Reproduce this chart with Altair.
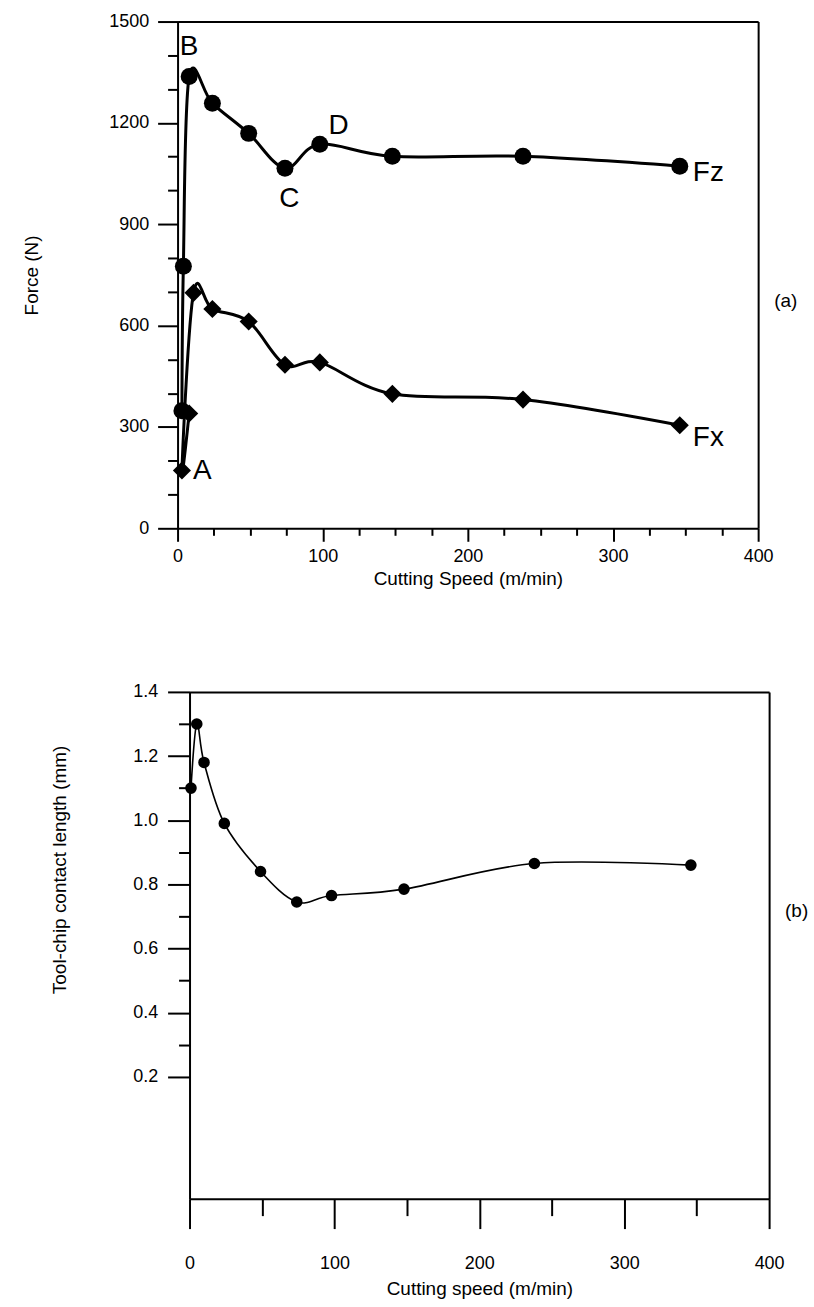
import altair as alt
import pandas as pd

# ---------------- data ----------------
fz_speed = [3, 4, 8, 24, 49, 74, 98, 148, 238, 346]
fz_force = [348, 776, 1337, 1258, 1169, 1066, 1137, 1101, 1101, 1072]
fx_speed = [8, 3, 11, 24, 49, 74, 98, 148, 238, 346]
fx_force = [340, 171, 697, 649, 612, 484, 491, 398, 381, 305]
len_speed = [1, 5, 10, 24, 49, 74, 98, 148, 238, 346]
len_value = [1.10, 1.30, 1.18, 0.99, 0.84, 0.745, 0.765, 0.785, 0.865, 0.86]

top_x_major = [0, 100, 200, 300, 400]
top_x_minor = [25, 50, 75, 125, 150, 175, 225, 250, 275, 325, 350, 375]
top_y_major = [0, 300, 600, 900, 1200, 1500]
top_y_minor = [100, 200, 400, 500, 700, 800, 1000, 1100, 1300, 1400]
bot_x_major = [0, 100, 200, 300, 400]
bot_x_minor = [50, 150, 250, 350]
bot_y_major = [0.2, 0.4, 0.6, 0.8, 1.0, 1.2, 1.4]
bot_y_minor = [0.3, 0.5, 0.7, 0.9, 1.1, 1.3]

note_text = ["B", "A", "C", "D"]
note_speed = [8, 17, 77, 111]
note_force = [1426, 171, 974, 1190]
side_text = ["Fz", "Fx"]
side_speed = [355, 355]
side_force = [1051, 268]
panel_a = ["(a)"]
panel_a_speed = [419]
panel_a_force = [673]
panel_b = ["(b)"]
panel_b_speed = [419]
panel_b_value = [0.716]

# ---------------- style ----------------
FONT = "Liberation Sans"
K = "black"
TW, TH = 582, 508
BW, BH = 593, 508
SHIFT = 12

fz = pd.DataFrame({"speed": fz_speed, "force": fz_force, "seq": list(range(len(fz_speed)))})
fx = pd.DataFrame({"speed": fx_speed, "force": fx_force, "seq": list(range(len(fx_speed)))})
ln = pd.DataFrame({"speed": len_speed, "value": len_value, "seq": list(range(len(len_speed)))})
notes = pd.DataFrame({"t": note_text, "speed": note_speed, "force": note_force})
sides = pd.DataFrame({"t": side_text, "speed": side_speed, "force": side_force})
pa = pd.DataFrame({"t": panel_a, "speed": panel_a_speed, "force": panel_a_force})
pb = pd.DataFrame({"t": panel_b, "speed": panel_b_speed, "value": panel_b_value})


def major_axis(orient, values, tick, title, fmt, label_pad, **kw):
    return alt.Axis(orient=orient, values=values, tickSize=tick, tickWidth=2,
                    tickColor=K, domain=True, domainColor=K, domainWidth=2,
                    labelFont=FONT, labelFontSize=18, labelColor=K,
                    labelPadding=label_pad, labelFlush=False, labelOverlap=False,
                    format=fmt, grid=False, title=title, titleFont=FONT,
                    titleFontSize=19, titleFontWeight="normal", titleColor=K, **kw)


def minor_axis(orient, values, tick, **kw):
    return alt.Axis(orient=orient, values=values, tickSize=tick, tickWidth=2,
                    tickColor=K, domain=False, labels=False, grid=False,
                    title=None, **kw)


def frame_axis(orient, **kw):
    return alt.Axis(orient=orient, domain=True, domainColor=K, domainWidth=2,
                    ticks=False, labels=False, grid=False, title=None, **kw)


# ---------------- top panel ----------------
xs = alt.Scale(domain=[0, 400], nice=False, zero=False)
ys = alt.Scale(domain=[0, 1500], nice=False, zero=False)

fz_line = alt.Chart(fz).mark_line(color=K, strokeWidth=3, interpolate="cardinal").encode(
    x=alt.X("speed:Q", scale=xs,
            axis=major_axis("bottom", top_x_major, 13, "Cutting Speed (m/min)", "d", 6,
                            titlePadding=4)),
    y=alt.Y("force:Q", scale=ys,
            axis=major_axis("left", top_y_major, 20, "Force (N)", "d", 9,
                            titleX=-146, titleY=TH / 2, titleAngle=270,
                            titleAlign="center", titleBaseline="middle")),
    order=alt.Order("seq:Q"),
)
fx_line = alt.Chart(fx).mark_line(color=K, strokeWidth=3, interpolate="cardinal").encode(
    x=alt.X("speed:Q", scale=xs, axis=minor_axis("bottom", top_x_minor, 7)),
    y=alt.Y("force:Q", scale=ys, axis=minor_axis("left", top_y_minor, 10)),
    order=alt.Order("seq:Q"),
)
fz_pts = alt.Chart(fz).mark_point(shape="circle", filled=True, color=K, size=290, opacity=1).encode(
    x=alt.X("speed:Q", scale=xs, axis=frame_axis("top")),
    y=alt.Y("force:Q", scale=ys, axis=frame_axis("right")),
)
fx_pts = alt.Chart(fx).mark_point(shape="diamond", filled=True, color=K, size=330, opacity=1).encode(
    x=alt.X("speed:Q", scale=xs, axis=None),
    y=alt.Y("force:Q", scale=ys, axis=None),
)
note_layer = alt.Chart(notes).mark_text(font=FONT, fontSize=28, color=K, align="center",
                                        baseline="middle").encode(
    x=alt.X("speed:Q", scale=xs, axis=None),
    y=alt.Y("force:Q", scale=ys, axis=None),
    text="t:N",
)
side_layer = alt.Chart(sides).mark_text(font=FONT, fontSize=28, color=K, align="left",
                                        baseline="middle").encode(
    x=alt.X("speed:Q", scale=xs, axis=None),
    y=alt.Y("force:Q", scale=ys, axis=None),
    text="t:N",
)
pa_layer = alt.Chart(pa).mark_text(font=FONT, fontSize=19, color=K, align="center",
                                   baseline="middle").encode(
    x=alt.X("speed:Q", scale=xs, axis=None),
    y=alt.Y("force:Q", scale=ys, axis=None),
    text="t:N",
)

top = alt.layer(fz_line, fx_line, fz_pts, fx_pts, note_layer, side_layer, pa_layer).resolve_axis(
    x="independent", y="independent").properties(width=TW, height=TH)

# ---------------- bottom panel ----------------
bxs = alt.Scale(domain=[0, 400], range=[SHIFT, BW], nice=False, zero=False)
bys = alt.Scale(domain=[-0.18, 1.4], nice=False, zero=False)

b_line = alt.Chart(ln).mark_line(color=K, strokeWidth=1.6, interpolate="cardinal").encode(
    x=alt.X("speed:Q", scale=bxs,
            axis=major_axis("bottom", bot_x_major, 30, "Cutting speed (m/min)", "d", 26,
                            titlePadding=7)),
    y=alt.Y("value:Q", scale=bys,
            axis=major_axis("left", bot_y_major, 22, "Tool-chip contact length (mm)", ".1f", 10,
                            offset=-SHIFT, titleX=-130, titleY=178, titleAngle=270,
                            titleAlign="center", titleBaseline="middle")),
    order=alt.Order("seq:Q"),
)
b_pts = alt.Chart(ln).mark_point(shape="circle", filled=True, color=K, size=135, opacity=1).encode(
    x=alt.X("speed:Q", scale=bxs, axis=minor_axis("bottom", bot_x_minor, 17)),
    y=alt.Y("value:Q", scale=bys, axis=minor_axis("left", bot_y_minor, 11, offset=-SHIFT)),
)
b_frame = alt.Chart(pb).mark_text(font=FONT, fontSize=19, color=K, align="center",
                                  baseline="middle").encode(
    x=alt.X("speed:Q", scale=bxs, axis=frame_axis("top")),
    y=alt.Y("value:Q", scale=bys, axis=frame_axis("right")),
    text="t:N",
)

bottom = alt.layer(b_line, b_pts, b_frame).resolve_axis(
    x="independent", y="independent").properties(width=BW, height=BH)

chart = alt.vconcat(top, bottom, spacing=95).properties(
    padding={"left": 23, "top": 11, "right": 5, "bottom": 5},
    background="white",
).configure_view(stroke=None)

chart.save("out.html", embed_options={"renderer": "svg", "actions": False})
